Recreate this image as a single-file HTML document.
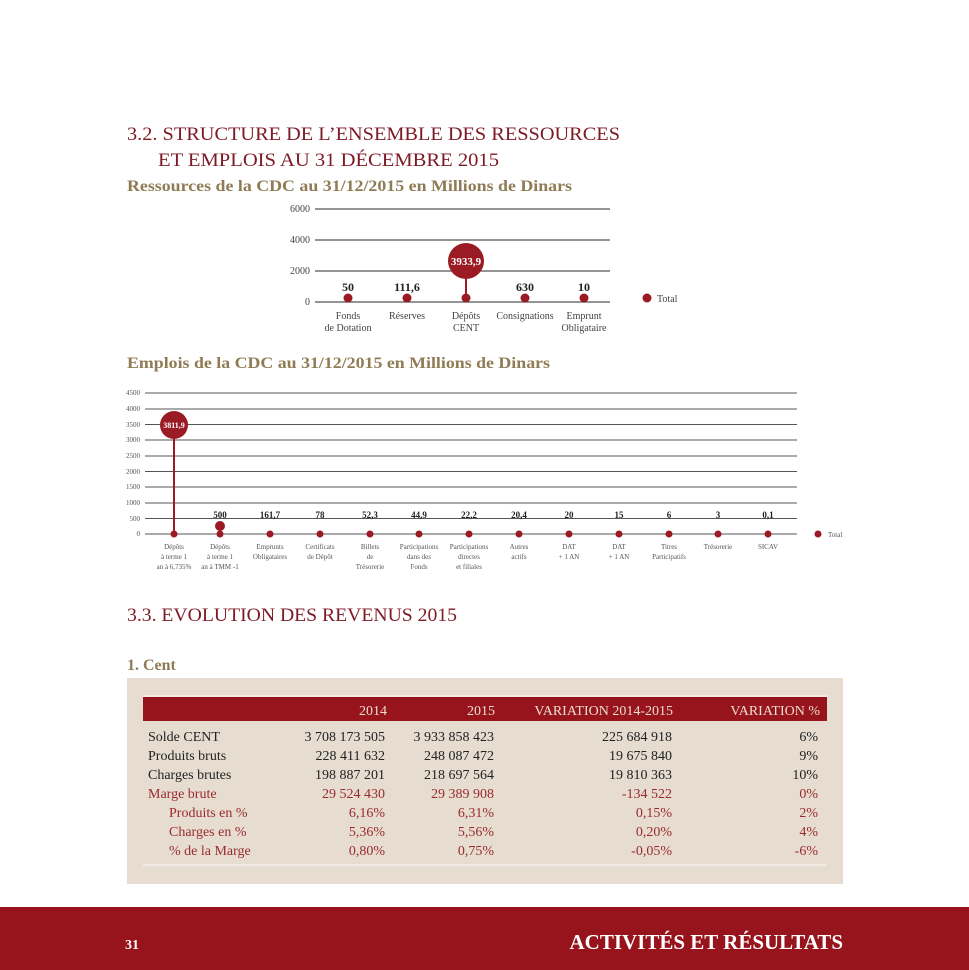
<!DOCTYPE html>
<html><head><meta charset="utf-8"><style>
html,body{margin:0;padding:0;background:#fff;}
svg{display:block;font-family:"Liberation Serif",serif;}
</style></head><body>
<svg width="969" height="970" viewBox="0 0 969 970" xmlns="http://www.w3.org/2000/svg">
<rect width="969" height="970" fill="#fff"/>
<!-- Titles -->
<text x="127" y="140" font-size="19" fill="#7d1a24" textLength="493" lengthAdjust="spacingAndGlyphs">3.2. STRUCTURE DE L’ENSEMBLE DES RESSOURCES</text>
<text x="158" y="166" font-size="19" fill="#7d1a24" textLength="341" lengthAdjust="spacingAndGlyphs">ET EMPLOIS AU 31 DÉCEMBRE 2015</text>
<text x="127" y="191" font-size="16" font-weight="bold" fill="#8f7c55" textLength="445" lengthAdjust="spacingAndGlyphs">Ressources de la CDC au 31/12/2015 en Millions de Dinars</text>

<!-- Chart 1 -->
<g stroke="#555" stroke-width="1.2">
<line x1="315" y1="209" x2="610" y2="209"/>
<line x1="315" y1="240" x2="610" y2="240"/>
<line x1="315" y1="271" x2="610" y2="271"/>
<line x1="315" y1="302" x2="610" y2="302"/>
</g>
<g font-size="10" fill="#444" text-anchor="end">
<text x="310" y="212">6000</text><text x="310" y="243">4000</text><text x="310" y="274">2000</text><text x="310" y="305">0</text>
</g>
<g fill="#9b1b24">
<circle cx="348" cy="298" r="4.5"/><circle cx="407" cy="298" r="4.5"/><circle cx="466" cy="298" r="4.5"/><circle cx="525" cy="298" r="4.5"/><circle cx="584" cy="298" r="4.5"/>
<rect x="465" y="262" width="2" height="36"/>
<circle cx="466" cy="261" r="18"/>
<circle cx="647" cy="298" r="4.5"/>
</g>
<text x="466" y="265" font-size="11" font-weight="bold" fill="#fff" text-anchor="middle">3933,9</text>
<g font-size="12" font-weight="bold" fill="#222" text-anchor="middle">
<text x="348" y="291">50</text><text x="407" y="291">111,6</text><text x="525" y="291">630</text><text x="584" y="291">10</text>
</g>
<text x="657" y="302" font-size="10" fill="#444">Total</text>
<g font-size="10" fill="#444" text-anchor="middle">
<text x="348" y="319">Fonds</text><text x="348" y="331">de Dotation</text>
<text x="407" y="319">Réserves</text>
<text x="466" y="319">Dépôts</text><text x="466" y="331">CENT</text>
<text x="525" y="319">Consignations</text>
<text x="584" y="319">Emprunt</text><text x="584" y="331">Obligataire</text>
</g>

<text x="127" y="368" font-size="16" font-weight="bold" fill="#8f7c55" textLength="423" lengthAdjust="spacingAndGlyphs">Emplois de la CDC au 31/12/2015 en Millions de Dinars</text>

<!-- Chart 2 -->
<g stroke="#555" stroke-width="1.1">
<line x1="145" y1="393" x2="797" y2="393"/>
<line x1="145" y1="409" x2="797" y2="409"/>
<line x1="145" y1="424.5" x2="797" y2="424.5"/>
<line x1="145" y1="440" x2="797" y2="440"/>
<line x1="145" y1="456" x2="797" y2="456"/>
<line x1="145" y1="471.5" x2="797" y2="471.5"/>
<line x1="145" y1="487" x2="797" y2="487"/>
<line x1="145" y1="503" x2="797" y2="503"/>
<line x1="145" y1="518.5" x2="797" y2="518.5"/>
<line x1="145" y1="534" x2="797" y2="534"/>
</g>
<g font-size="7" fill="#555" text-anchor="end">
<text x="140" y="395">4500</text><text x="140" y="411">4000</text><text x="140" y="427">3500</text><text x="140" y="442">3000</text><text x="140" y="458">2500</text><text x="140" y="474">2000</text><text x="140" y="489">1500</text><text x="140" y="505">1000</text><text x="140" y="521">500</text><text x="140" y="536">0</text>
</g>
<g fill="#9b1b24">
<circle cx="174" cy="534" r="3.5"/><circle cx="220" cy="534" r="3.5"/><circle cx="270" cy="534" r="3.5"/><circle cx="320" cy="534" r="3.5"/><circle cx="370" cy="534" r="3.5"/><circle cx="419" cy="534" r="3.5"/><circle cx="469" cy="534" r="3.5"/><circle cx="519" cy="534" r="3.5"/><circle cx="569" cy="534" r="3.5"/><circle cx="619" cy="534" r="3.5"/><circle cx="669" cy="534" r="3.5"/><circle cx="718" cy="534" r="3.5"/><circle cx="768" cy="534" r="3.5"/>
<rect x="173" y="430" width="2" height="104"/>
<circle cx="174" cy="425" r="14"/>
<circle cx="220" cy="526" r="5"/>
<circle cx="818" cy="534" r="3.5"/>
</g>
<text x="174" y="428" font-size="8" font-weight="bold" fill="#fff" text-anchor="middle">3811,9</text>
<g font-size="9" font-weight="bold" fill="#222" text-anchor="middle">
<text x="220" y="518">500</text><text x="270" y="518">161,7</text><text x="320" y="518">78</text><text x="370" y="518">52,3</text><text x="419" y="518">44,9</text><text x="469" y="518">22,2</text><text x="519" y="518">20,4</text><text x="569" y="518">20</text><text x="619" y="518">15</text><text x="669" y="518">6</text><text x="718" y="518">3</text><text x="768" y="518">0,1</text>
</g>
<text x="828" y="537" font-size="7" fill="#555">Total</text>
<g font-size="7" fill="#555" text-anchor="middle">
<text x="174" y="549">Dépôts</text><text x="174" y="559">à terme 1</text><text x="174" y="569">an à 6,735%</text>
<text x="220" y="549">Dépôts</text><text x="220" y="559">à terme 1</text><text x="220" y="569">an à TMM -1</text>
<text x="270" y="549">Emprunts</text><text x="270" y="559">Obligataires</text>
<text x="320" y="549">Certificats</text><text x="320" y="559">de Dépôt</text>
<text x="370" y="549">Billets</text><text x="370" y="559">de</text><text x="370" y="569">Trésorerie</text>
<text x="419" y="549">Participations</text><text x="419" y="559">dans des</text><text x="419" y="569">Fonds</text>
<text x="469" y="549">Participations</text><text x="469" y="559">directes</text><text x="469" y="569">et filiales</text>
<text x="519" y="549">Autres</text><text x="519" y="559">actifs</text>
<text x="569" y="549">DAT</text><text x="569" y="559">+ 1 AN</text>
<text x="619" y="549">DAT</text><text x="619" y="559">+ 1 AN</text>
<text x="669" y="549">Titres</text><text x="669" y="559">Participatifs</text>
<text x="718" y="549">Trésorerie</text>
<text x="768" y="549">SICAV</text>
</g>

<text x="127" y="621" font-size="19" fill="#7d1a24" textLength="330" lengthAdjust="spacingAndGlyphs">3.3. EVOLUTION DES REVENUS 2015</text>
<text x="127" y="670" font-size="16" font-weight="bold" fill="#8f7c55">1. Cent</text>

<!-- Table -->
<rect x="127" y="678" width="716" height="206" fill="#e6ddd0"/>
<rect x="143" y="697" width="684" height="24" fill="#98141c"/>
<line x1="143" y1="696" x2="827" y2="696" stroke="#f4efe8" stroke-width="1.5"/>
<g font-size="14" fill="#eadfd0" text-anchor="end">
<text x="387" y="715">2014</text><text x="495" y="715">2015</text><text x="673" y="715">VARIATION 2014-2015</text><text x="820" y="715">VARIATION %</text>
</g>
<g font-size="14" fill="#222">
<text x="148" y="741">Solde CENT</text><text x="148" y="760">Produits bruts</text><text x="148" y="779">Charges brutes</text>
</g>
<g font-size="14" fill="#9b2a30">
<text x="148" y="798">Marge brute</text><text x="169" y="817">Produits en %</text><text x="169" y="836">Charges en %</text><text x="169" y="855">% de la Marge</text>
</g>
<g font-size="14" fill="#222" text-anchor="end">
<text x="385" y="741">3 708 173 505</text><text x="494" y="741">3 933 858 423</text><text x="672" y="741">225 684 918</text><text x="818" y="741">6%</text>
<text x="385" y="760">228 411 632</text><text x="494" y="760">248 087 472</text><text x="672" y="760">19 675 840</text><text x="818" y="760">9%</text>
<text x="385" y="779">198 887 201</text><text x="494" y="779">218 697 564</text><text x="672" y="779">19 810 363</text><text x="818" y="779">10%</text>
</g>
<g font-size="14" fill="#9b2a30" text-anchor="end">
<text x="385" y="798">29 524 430</text><text x="494" y="798">29 389 908</text><text x="672" y="798">-134 522</text><text x="818" y="798">0%</text>
<text x="385" y="817">6,16%</text><text x="494" y="817">6,31%</text><text x="672" y="817">0,15%</text><text x="818" y="817">2%</text>
<text x="385" y="836">5,36%</text><text x="494" y="836">5,56%</text><text x="672" y="836">0,20%</text><text x="818" y="836">4%</text>
<text x="385" y="855">0,80%</text><text x="494" y="855">0,75%</text><text x="672" y="855">-0,05%</text><text x="818" y="855">-6%</text>
</g>
<line x1="143" y1="865" x2="827" y2="865" stroke="#f4efe8" stroke-width="1.5"/>

<!-- Footer -->
<rect x="0" y="907" width="969" height="63" fill="#98141c"/>
<text x="125" y="949" font-size="14" font-weight="bold" fill="#fff">31</text>
<text x="843" y="949" font-size="21" font-weight="bold" fill="#fff" text-anchor="end">ACTIVITÉS ET RÉSULTATS</text>
</svg>
</body></html>
